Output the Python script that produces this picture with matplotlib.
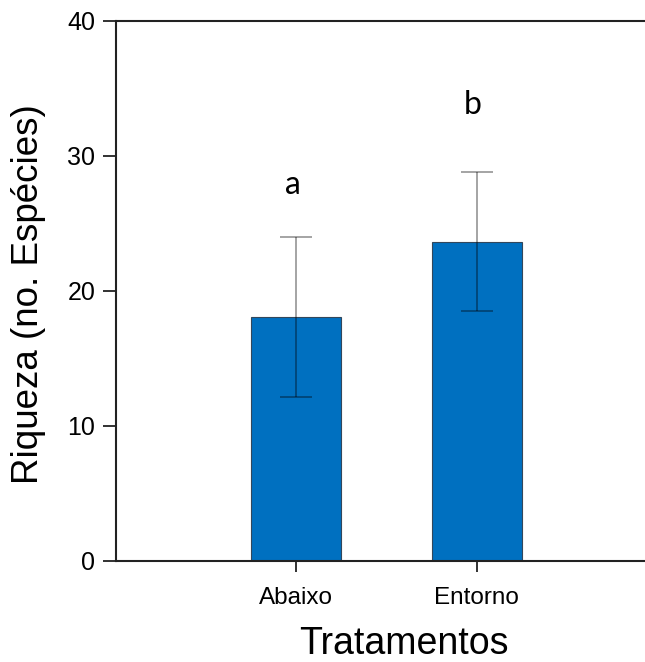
import matplotlib
matplotlib.use("Agg")
import matplotlib.pyplot as plt
import numpy as np

# data
tratamentos = ["Abaixo", "Entorno"]
riqueza = [18.05, 23.63]
erro = [5.9, 5.13]
letras = ["a", "b"]
letra_y = [27.15, 33.07]

plt.rcParams['font.family'] = ['Liberation Sans', 'DejaVu Sans']

fig = plt.figure(figsize=(6.45, 6.62), dpi=100)
ax = fig.add_axes([116 / 645, 101.3 / 662, 541 / 645, 540 / 662])

x = np.arange(len(tratamentos))
ax.bar(x, riqueza, width=0.5, color="#0070C0", edgecolor="#33475b", linewidth=0.8, zorder=2)
ax.errorbar(x, riqueza, yerr=erro, fmt="none", ecolor="black", alpha=0.42,
            elinewidth=1.2, capsize=11.5, capthick=1.2, zorder=3)

for xi, letra, ly in zip(x, letras, letra_y):
    ax.text(xi - 0.02, ly, letra, ha="center", va="baseline", fontsize=23,
            family=["Lato", "DejaVu Sans"])

ax.set_xlim(-1, 2)
ax.set_ylim(0, 40)
ax.set_yticks([0, 10, 20, 30, 40])
ax.set_xticks(x)
ax.set_xticklabels(tratamentos)

for side in ["left", "bottom", "top"]:
    ax.spines[side].set_color("#222222")
    ax.spines[side].set_linewidth(1.5)
ax.spines["right"].set_visible(False)

ax.tick_params(axis="y", direction="out", length=9.4, width=1.3, pad=5.5,
               labelsize=18, color="#222222")
ax.tick_params(axis="x", direction="out", length=8, width=1.3, pad=11,
               labelsize=17.5, color="#222222")

fig.text(29 / 645, 1 - 294 / 662, "Riqueza (no. Espécies)", rotation=90,
         ha="center", va="center", fontsize=26.5)
fig.text(403.5 / 645, 8 / 662, "Tratamentos", ha="center", va="baseline", fontsize=27)

fig.savefig("out.png", dpi=100)
